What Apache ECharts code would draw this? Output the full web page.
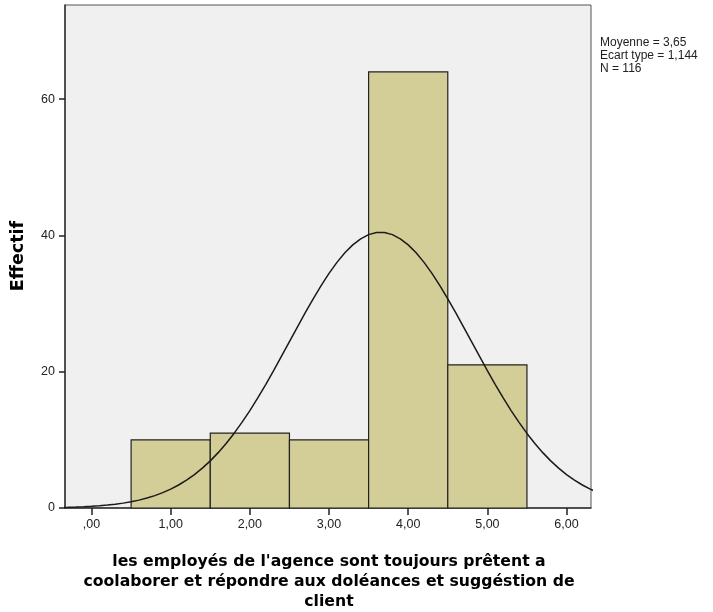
<!DOCTYPE html>
<html><head><meta charset="utf-8">
<script src="https://cdn.jsdelivr.net/npm/echarts@6/dist/echarts.min.js"></script>
<style>html,body{margin:0;padding:0;background:#fff}#c{width:713px;height:612px}</style>
</head><body><div id="c"></div>
<script>
// Histogram bins
const binStarts = [0.5, 1.5, 2.5, 3.5, 4.5];
const binEnds   = [1.5, 2.5, 3.5, 4.5, 5.5];
const counts    = [10, 11, 10, 64, 21];
// Normal curve
const curveX = [-0.4,-0.3,-0.2,-0.1,0.0,0.1,0.2,0.3,0.4,0.5,0.6,0.7,0.8,0.9,1.0,1.1,1.2,1.3,1.4,1.5,1.6,1.7,1.8,1.9,2.0,2.1,2.2,2.3,2.4,2.5,2.6,2.7,2.8,2.9,3.0,3.1,3.2,3.3,3.4,3.5,3.6,3.7,3.8,3.9,4.0,4.1,4.2,4.3,4.4,4.5,4.6,4.7,4.8,4.9,5.0,5.1,5.2,5.3,5.4,5.5,5.6,5.7,5.8,5.9,6.0,6.1,6.2,6.3,6.4];
const curveY = [0.077,0.104,0.140,0.188,0.249,0.328,0.429,0.556,0.715,0.913,1.157,1.455,1.817,2.250,2.766,3.373,4.084,4.905,5.847,6.917,8.122,9.462,10.941,12.554,14.296,16.155,18.117,20.163,22.268,24.408,26.547,28.654,30.694,32.630,34.422,36.037,37.440,38.603,39.497,40.106,40.414,40.414,40.106,39.497,38.603,37.440,36.037,34.422,32.630,30.694,28.654,26.547,24.408,22.268,20.163,18.117,16.155,14.296,12.554,10.941,9.462,8.122,6.917,5.847,4.905,4.084,3.373,2.766,2.250];
// Axis ticks
const xTicks = [0, 1, 2, 3, 4, 5, 6];
const xTickLabels = [',00', '1,00', '2,00', '3,00', '4,00', '5,00', '6,00'];
const yTicks = [0, 20, 40, 60];
// Texts
const statsLines = ['Moyenne = 3,65', 'Ecart type = 1,144', 'N = 116'];
const xTitleLines = ["les employés de l'agence sont toujours prêtent a", "coolaborer et répondre aux doléances et suggéstion de", "client"];
const yTitle = 'Effectif';

const barData = binStarts.map((s, i) => [s, binEnds[i], counts[i]]);
const lineData = curveX.map((x, i) => [x, curveY[i]]);

const chart = echarts.init(document.getElementById('c'), null, {renderer: 'canvas'});
chart.setOption({
  animation: false,
  backgroundColor: '#ffffff',
  grid: {left: 65, right: 122, top: 5, bottom: 104, show: true, backgroundColor: '#f0f0f0', borderColor: '#555', borderWidth: 1},
  xAxis: {
    type: 'value', min: -0.335, max: 6.309,
    axisLine: {show: true, onZero: false, lineStyle: {color: '#333', width: 1.5}},
    axisTick: {show: true, inside: false, customValues: xTicks, length: 7, lineStyle: {color: '#222', width: 1.5}},
    axisLabel: {customValues: xTicks, margin: 10, color: '#222', fontFamily: 'Liberation Sans', fontSize: 12.5,
      formatter: v => xTickLabels[xTicks.indexOf(Math.round(v))]},
    splitLine: {show: false}
  },
  yAxis: {
    type: 'value', min: 0, max: 73.8,
    axisLine: {show: true, onZero: false, lineStyle: {color: '#333', width: 1.5}},
    axisTick: {show: true, inside: false, customValues: yTicks, length: 6, lineStyle: {color: '#222', width: 1.5}},
    axisLabel: {customValues: yTicks, margin: 10, color: '#222', fontFamily: 'Liberation Sans', fontSize: 12.5},
    splitLine: {show: false}
  },
  series: [
    {
      type: 'custom',
      data: barData,
      encode: {x: [0, 1], y: 2},
      renderItem: function (params, api) {
        const p0 = api.coord([api.value(0), 0]);
        const p1 = api.coord([api.value(1), api.value(2)]);
        return {type: 'rect', shape: {x: p0[0], y: p1[1], width: p1[0] - p0[0], height: p0[1] - p1[1]},
          style: {fill: '#d3ce97', stroke: '#222', lineWidth: 1.2}};
      },
      z: 2
    },
    {
      type: 'line', data: lineData, smooth: false, showSymbol: false, clip: true,
      lineStyle: {color: '#1a1a1a', width: 1.5}, z: 3
    }
  ],
  graphic: [
    {type: 'text', x: 18, y: 256, rotation: Math.PI / 2,
      style: {text: yTitle, font: 'bold 17.5px "DejaVu Sans"', fill: '#000', align: 'center', verticalAlign: 'middle'}},
    {type: 'text', x: 329, y: 552,
      style: {text: xTitleLines.join('\n'), font: 'bold 15.7px "DejaVu Sans"', lineHeight: 20, fill: '#000', align: 'center', verticalAlign: 'top'}},
    {type: 'text', x: 600, y: 36,
      style: {text: statsLines.join('\n'), font: '12px "Liberation Sans"', lineHeight: 13, fill: '#222', align: 'left', verticalAlign: 'top'}}
  ]
});
</script>
</body></html>
